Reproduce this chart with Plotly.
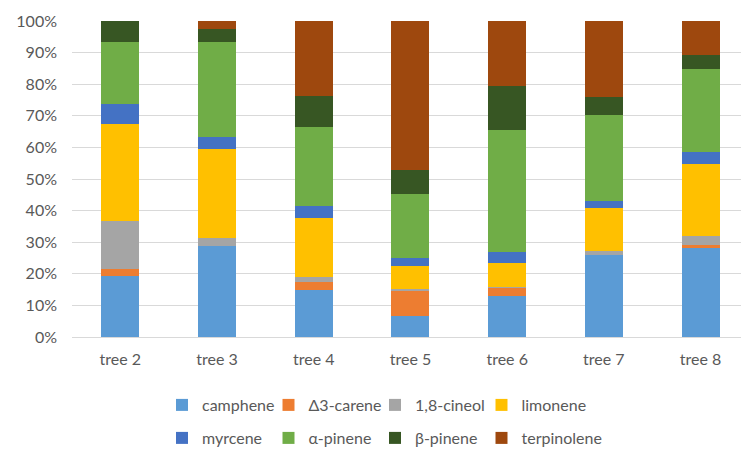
import plotly.graph_objects as go

# Composition of monoterpenes per tree (% of total)
trees = ["tree 2", "tree 3", "tree 4", "tree 5", "tree 6", "tree 7", "tree 8"]

camphene    = [19.4, 28.7, 14.8, 6.5, 12.9, 26.1, 28.1]
carene      = [2.2, 0.0, 2.5, 8.3, 2.7, 0.0, 0.9]
cineol      = [15.2, 2.5, 1.8, 0.5, 0.2, 1.1, 3.1]
limonene    = [30.5, 28.2, 18.5, 7.1, 7.7, 13.6, 22.5]
myrcene     = [6.4, 4.0, 4.0, 2.7, 3.3, 2.1, 3.8]
alpha_pin   = [19.6, 29.8, 24.8, 20.1, 38.8, 27.2, 26.3]
beta_pin    = [6.7, 4.2, 9.8, 7.5, 13.8, 5.7, 4.6]
terpinolene = [0.0, 2.6, 23.8, 47.2, 20.7, 24.2, 10.7]

series = [
    ("camphene", camphene, "#5B9BD5", "legend"),
    ("\u03943-carene", carene, "#ED7D31", "legend"),
    ("1,8-cineol", cineol, "#A5A5A5", "legend"),
    ("limonene", limonene, "#FFC000", "legend"),
    ("myrcene", myrcene, "#4472C4", "legend2"),
    ("\u03b1-pinene", alpha_pin, "#70AD47", "legend2"),
    ("\u03b2-pinene", beta_pin, "#375623", "legend2"),
    ("terpinolene", terpinolene, "#9E480E", "legend2"),
]
# last entry of each legend row gets extra room so its text is not cut off
row_end = {"limonene", "terpinolene"}

fig = go.Figure()
for name, vals, color, leg in series:
    fig.add_trace(go.Bar(
        x=trees, y=vals, name=name, marker_color=color,
        marker_line_width=0, legend=leg,
        legendwidth=110 if name in row_end else None,
    ))

font_family = "Lato, 'Open Sans', sans-serif"
text_color = "#595959"

legend_common = dict(
    orientation="h",
    xref="container", yref="container",
    xanchor="left", yanchor="middle",
    entrywidth=61.5, entrywidthmode="pixels",
    itemwidth=30,
    font=dict(family=font_family, size=16, color=text_color),
    bgcolor="rgba(0,0,0,0)",
    traceorder="normal",
    itemclick=False,
)

fig.update_layout(
    width=741, height=450,
    barmode="stack",
    bargap=0.607,
    plot_bgcolor="white",
    paper_bgcolor="white",
    margin=dict(l=72, r=0, t=21, b=112.5),
    font=dict(family=font_family, size=16, color=text_color),
    showlegend=True,
    legend=dict(legend_common, x=162 / 741, y=1 - 405 / 450),
    legend2=dict(legend_common, x=162 / 741, y=1 - 438 / 450),
)

fig.update_yaxes(
    range=[0, 100], dtick=10, ticksuffix="%",
    showgrid=True, gridcolor="#D9D9D9", gridwidth=1,
    zeroline=False, showline=False, ticks="",
    ticklabelstandoff=14,
    tickfont=dict(family=font_family, size=16, color=text_color),
)
fig.update_xaxes(
    range=[-0.5, 6.418],
    showline=True, linecolor="#D9D9D9", linewidth=1,
    ticks="", ticklabelstandoff=8,
    tickfont=dict(family=font_family, size=16, color=text_color),
)

fig.write_html("out.html")
